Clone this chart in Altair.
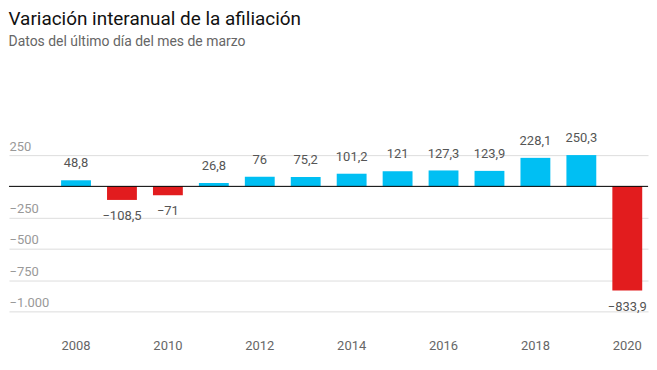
import altair as alt
import pandas as pd

years = list(range(2008, 2021))
values = [48.8, -108.5, -71, 26.8, 76, 75.2, 101.2, 121, 127.3, 123.9, 228.1, 250.3, -833.9]
y_ticks = [250, 0, -250, -500, -750, -1000]
x_label_years = [2008, 2010, 2012, 2014, 2016, 2018, 2020]

df = pd.DataFrame({"year": years, "value": values})
df["sign"] = ["pos" if v >= 0 else "neg" for v in values]

BLUE = "#00BFF3"
RED = "#E21C1E"
FONT = "Roboto"

x = alt.X(
    "year:O",
    scale=alt.Scale(paddingInner=0.35, paddingOuter=0.63, align=0.9),
    axis=alt.Axis(
        values=x_label_years, title=None, domain=False, ticks=False,
        labelAngle=0, labelPadding=28, labelFontSize=13, labelColor="#666",
        labelFont=FONT, grid=False,
    ),
)
y_scale = alt.Scale(domain=[-1000, 250], nice=False)
y_axis = alt.Axis(
    values=y_ticks, title=None, domain=False, ticks=False, tickSize=0,
    labelAlign="left", labelBaseline="bottom", labelPadding=0, labelOffset=-2,
    labelFontSize=13, labelColor="#999", labelFont=FONT, format=",d",
    labelExpr="datum.value == 0 ? '' : datum.label",
    labelOverlap=False, labelFlush=False,
    grid=True, gridColor="#dddddd", gridWidth=1,
)
y = alt.Y("value:Q", scale=y_scale, axis=y_axis)

base = alt.Chart(df)

bars = base.mark_bar().encode(
    x=x, y=y,
    color=alt.Color("sign:N", scale=alt.Scale(domain=["pos", "neg"], range=[BLUE, RED]), legend=None),
)

pos_text = base.transform_filter("datum.value >= 0").mark_text(
    baseline="bottom", dy=-10, fontSize=13, color="#555", font=FONT
).encode(x=x, y=y, text=alt.Text("value:Q", format=",.1~f"))

neg_text = base.transform_filter("datum.value < 0").mark_text(
    baseline="top", dy=10, fontSize=13, color="#555", font=FONT
).encode(x=x, y=y, text=alt.Text("value:Q", format=",.1~f"))

zero = alt.Chart(pd.DataFrame({"value": [0]})).mark_rule(color="#000", strokeWidth=1).encode(
    y=y
)

chart = alt.layer(bars, zero, pos_text, neg_text).properties(
    width=642, height=157, padding=0,
    title=alt.TitleParams(
        "Variación interanual de la afiliación",
        subtitle="Datos del último día del mes de marzo",
        anchor="start", font=FONT, fontSize=19, fontWeight="normal", color="#111",
        subtitleFont=FONT, subtitleFontSize=14, subtitleColor="#666",
        subtitlePadding=6, offset=84,
    ),
).configure(
    locale={"number": {"decimal": ",", "thousands": ".", "grouping": [3], "currency": ["", " €"], "minus": "\u2212"}}
).configure_view(stroke=None)

chart.save("out.html", embed_options={"renderer": "svg", "actions": False})
